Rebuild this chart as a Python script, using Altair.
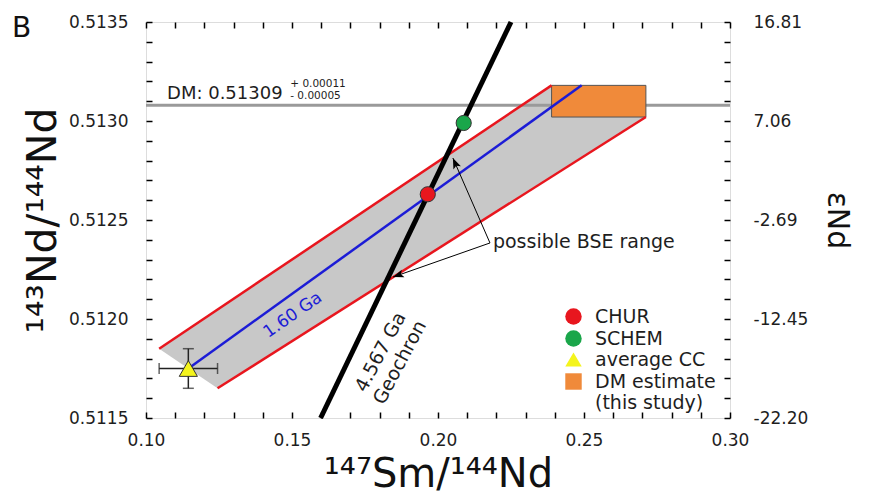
import altair as alt
import pandas as pd

FONT = "DejaVu Sans"
TXT = "#1e1e1e"

# ---------------- axis ticks / labels ----------------
x_major = [0.10, 0.15, 0.20, 0.25, 0.30]
x_major_labels = ["0.10", "0.15", "0.20", "0.25", "0.30"]
y_major = [0.5115, 0.5120, 0.5125, 0.5130, 0.5135]
y_major_labels = ["0.5115", "0.5120", "0.5125", "0.5130", "0.5135"]
eps_labels = ["-22.20", "-12.45", "-2.69", "7.06", "16.81"]
x_ticks = [round(0.10 + 0.01 * i, 2) for i in range(21)]
y_ticks = [round(0.5115 + 0.0001 * i, 4) for i in range(21)]

# ---------------- data ----------------
pt_names = ["CHUR", "SCHEM", "average CC"]
pt_x = [0.1965, 0.2088, 0.1145]
pt_y = [0.51263, 0.51299, 0.51175]
pt_size = [230, 230, 330]
legend_names = ["CHUR", "SCHEM", "average CC", "DM estimate"]
legend_fill = ["#e8161e", "#1aa64a", "#f4f41c", "#f08a3a"]
legend_shape = ["circle", "circle", "triangle-up", "square"]

cc_x, cc_y = 0.1145, 0.51175
cc_xerr = 0.0100
cc_yerr = 0.00010

dm_value = 0.51309
dm_line_y = 0.51308
dm_plus = "+ 0.00011"
dm_minus = "- 0.00005"
dm_box_x = [0.2389, 0.2712]
dm_box_y = [0.51302, 0.51318]

band_x = [0.1045, 0.2389, 0.2712, 0.1245]
band_y = [0.51185, 0.51318, 0.51302, 0.51165]

red_upper_x = [0.1045, 0.2389]
red_upper_y = [0.51185, 0.51318]
red_lower_x = [0.1245, 0.2712]
red_lower_y = [0.51165, 0.51302]
iso_x = [0.1145, 0.2492]
iso_y = [0.51175, 0.51318]
geo_x = [0.1598, 0.2250]
geo_y = [0.5115, 0.5135]

arrow_start_x, arrow_start_y = 0.2178, 0.512384
arrow_tip_x = [0.2051, 0.1846]
arrow_tip_y = [0.512813, 0.512212]
arrow_angle = [336.5, 250.7]

# ---------------- scales / helpers ----------------
xs = alt.Scale(domain=[0.10, 0.30], nice=False, zero=False)
ys = alt.Scale(domain=[0.5115, 0.5135], nice=False, zero=False)


def lab_expr(vals, labs):
    e = ""
    for v, l in zip(vals, labs):
        e += f"abs(datum.value - {v}) < 1e-7 ? '{l}' : "
    return e + "''"


axis_common = dict(domain=False, grid=False, offset=-6, tickSize=6, tickWidth=1.5,
                   tickColor="black", labelFont=FONT, labelFontSize=17, labelColor=TXT,
                   labelFlush=False, labelOverlap=False, titleFont=FONT,
                   titleFontWeight="normal", titleColor="#111")

x_axis_bottom = alt.Axis(orient="bottom", values=x_ticks, labelExpr=lab_expr(x_major, x_major_labels),
                         labelPadding=14, title="¹⁴⁷Sm/¹⁴⁴Nd", titleFontSize=40, titlePadding=6,
                         **axis_common)
y_axis_left = alt.Axis(orient="left", values=y_ticks, labelExpr=lab_expr(y_major, y_major_labels),
                       labelPadding=18, title="¹⁴³Nd/¹⁴⁴Nd", titleFontSize=41, titlePadding=4,
                       **axis_common)
x_axis_top = alt.Axis(orient="top", values=x_ticks, labels=False, title=None, **axis_common)
y_axis_right = alt.Axis(orient="right", values=y_ticks, labelExpr=lab_expr(y_major, eps_labels),
                        labelPadding=23, title="εNd", titleFontSize=30, titleAngle=90,
                        titlePadding=14, **axis_common)


def X(f="x"):
    return alt.X(f"{f}:Q", scale=xs, axis=x_axis_bottom)


def Y(f="y"):
    return alt.Y(f"{f}:Q", scale=ys, axis=y_axis_left)


# ---------------- layers ----------------
band_df = pd.DataFrame({"x": band_x, "y": band_y, "i": list(range(len(band_x)))})
band = alt.Chart(band_df).mark_line(fill="#c8c8c8", color="#c8c8c8", strokeWidth=0).encode(
    x=X(), y=Y(), order="i:Q")

dm_line = alt.Chart(pd.DataFrame({"y": [dm_line_y]})).mark_rule(color="#9a9a9a", strokeWidth=3).encode(y=Y())

dm_box = alt.Chart(pd.DataFrame({"x": [dm_box_x[0]], "x2": [dm_box_x[1]],
                                 "y": [dm_box_y[0]], "y2": [dm_box_y[1]]})).mark_rect(
    fill="#f08a3a", stroke="#555", strokeWidth=1).encode(x=X(), x2="x2", y=Y(), y2="y2")


def seg_df(xs_, ys_):
    return pd.DataFrame({"x": xs_, "y": ys_})


red = alt.Chart(pd.concat([seg_df(red_upper_x, red_upper_y).assign(s="u"),
                           seg_df(red_lower_x, red_lower_y).assign(s="l")])).mark_line(
    color="#e8161e", strokeWidth=2.5).encode(x=X(), y=Y(), detail="s:N")

iso = alt.Chart(seg_df(iso_x, iso_y)).mark_line(color="#1c1cd6", strokeWidth=2.5).encode(x=X(), y=Y())

geo = alt.Chart(seg_df(geo_x, geo_y)).mark_line(color="black", strokeWidth=5).encode(x=X(), y=Y())

arr_rows = []
for k, (tx, ty) in enumerate(zip(arrow_tip_x, arrow_tip_y)):
    arr_rows.append({"x": arrow_start_x, "y": arrow_start_y, "s": k, "o": 0})
    arr_rows.append({"x": tx, "y": ty, "s": k, "o": 1})
arrows = alt.Chart(pd.DataFrame(arr_rows)).mark_line(color="black", strokeWidth=1).encode(
    x=X(), y=Y(), detail="s:N", order="o:Q")
heads = alt.Chart(pd.DataFrame({"x": arrow_tip_x, "y": arrow_tip_y, "a": arrow_angle})).mark_point(
    shape="M0,0L-0.38,1L0,0.78L0.38,1Z", filled=True, color="black", size=460, opacity=1).encode(
    x=X(), y=Y(), angle=alt.Angle("a:Q", scale=None))

# error bars on average CC
eb_h = alt.Chart(pd.DataFrame({"x": [cc_x - cc_xerr], "x2": [cc_x + cc_xerr], "y": [cc_y]})).mark_rule(
    color="#222", strokeWidth=1.5).encode(x=X(), x2="x2", y=Y())
eb_v = alt.Chart(pd.DataFrame({"x": [cc_x], "y": [cc_y - cc_yerr], "y2": [cc_y + cc_yerr]})).mark_rule(
    color="#222", strokeWidth=1.5).encode(x=X(), y=Y(), y2="y2")
cap_v = alt.Chart(pd.DataFrame({"x": [cc_x - cc_xerr, cc_x + cc_xerr], "y": [cc_y, cc_y]})).mark_tick(
    orient="vertical", color="#222", size=11, thickness=1.5).encode(x=X(), y=Y())
cap_h = alt.Chart(pd.DataFrame({"x": [cc_x, cc_x], "y": [cc_y - cc_yerr, cc_y + cc_yerr]})).mark_tick(
    orient="horizontal", color="#222", size=11, thickness=1.5).encode(x=X(), y=Y())

legend = alt.Legend(title=None, orient="none", legendX=418, legendY=285, padding=0,
                    labelFont=FONT, labelFontSize=19, labelColor=TXT, symbolSize=270,
                    symbolStrokeColor="#333", symbolStrokeWidth=1, symbolOpacity=1,
                    rowPadding=1, labelOffset=12, labelLimit=300,
                    labelExpr="datum.label == 'DM estimate' ? ['DM estimate', '(this study)'] : datum.label")

pts = alt.Chart(pd.DataFrame({"x": pt_x, "y": pt_y, "name": pt_names, "sz": pt_size})).mark_point(
    filled=True, stroke="#333", strokeWidth=1, opacity=1).encode(
    x=X(), y=Y(),
    size=alt.Size("sz:Q", scale=None, legend=None),
    fill=alt.Fill("name:N", scale=alt.Scale(domain=legend_names, range=legend_fill), legend=legend),
    shape=alt.Shape("name:N", scale=alt.Scale(domain=legend_names, range=legend_shape), legend=legend))

# text annotations
dm_txt = alt.Chart(pd.DataFrame({"x": [0.1072], "y": [0.513113], "t": [f"DM: {dm_value:.5f}"]})).mark_text(
    align="left", baseline="alphabetic", font=FONT, fontSize=18, color=TXT).encode(x=X(), y=Y(), text="t:N")
dm_pm = alt.Chart(pd.DataFrame({"x": [0.1494, 0.1494], "y": [0.513185, 0.513124],
                                "t": [dm_plus, dm_minus]})).mark_text(
    align="left", baseline="middle", font=FONT, fontSize=10.5, color=TXT).encode(x=X(), y=Y(), text="t:N")
iso_txt = alt.Chart(pd.DataFrame({"x": [0.1503], "y": [0.51202], "t": ["1.60 Ga"]})).mark_text(
    align="center", baseline="middle", font=FONT, fontSize=17, color="#1c1cd6", angle=325).encode(
    x=X(), y=Y(), text="t:N")
geo_txt = alt.Chart(pd.DataFrame({"x": [0.1803], "y": [0.511833], "t": ["4.567 Ga\nGeochron"]})).mark_text(
    align="center", baseline="middle", font=FONT, fontSize=19, color=TXT, angle=298,
    lineBreak="\n", lineHeight=22).encode(x=X(), y=Y(), text="t:N")
bse_txt = alt.Chart(pd.DataFrame({"x": [0.2188], "y": [0.512389], "t": ["possible BSE range"]})).mark_text(
    align="left", baseline="middle", font=FONT, fontSize=19, color=TXT).encode(x=X(), y=Y(), text="t:N")

main = alt.layer(band, dm_line, dm_box, red, iso, geo, arrows, heads,
                 eb_h, eb_v, cap_v, cap_h, pts, dm_txt, dm_pm, iso_txt, geo_txt, bse_txt)

aux = alt.Chart(pd.DataFrame({"x": [pt_x[0]], "y": [pt_y[0]]})).mark_point(opacity=0).encode(
    x=alt.X("x:Q", scale=xs, axis=x_axis_top), y=alt.Y("y:Q", scale=ys, axis=y_axis_right))

chart = alt.layer(main, aux).resolve_scale(x="independent", y="independent").properties(
    width=584, height=396,
    autosize=alt.AutoSizeParams(type="none"),
    padding={"left": 138, "top": 14, "right": 134, "bottom": 76},
    title=alt.Title("B", anchor="start", frame="group", dx=-134, dy=24, offset=-29,
                    fontSize=28, font=FONT, fontWeight="normal", baseline="alphabetic", color="#111"),
).configure_view(stroke="black", strokeWidth=2).configure_legend(
    symbolStrokeColor="#333", symbolStrokeWidth=1).configure(background="white")

chart.save("out.html", embed_options={"renderer": "svg", "actions": False})
